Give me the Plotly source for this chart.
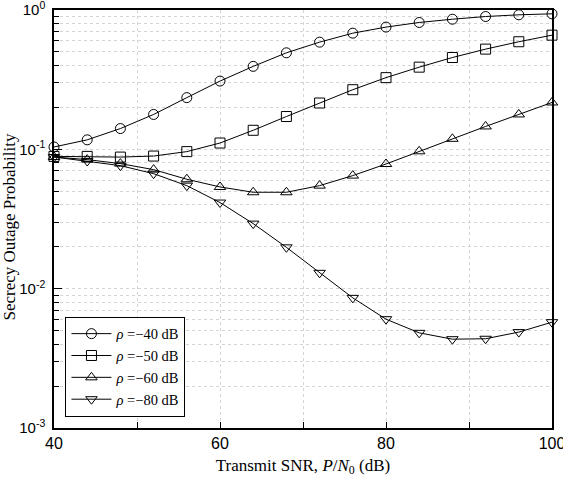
import plotly.graph_objects as go

snr = [40, 44, 48, 52, 56, 60, 64, 68, 72, 76, 80, 84, 88, 92, 96, 100]

p_40 = [0.104, 0.117, 0.141, 0.178, 0.235, 0.309, 0.394, 0.493, 0.588, 0.682,
        0.754, 0.814, 0.859, 0.898, 0.924, 0.939]
p_50 = [0.089, 0.089, 0.088, 0.0895, 0.0963, 0.111, 0.137, 0.172, 0.215, 0.268,
        0.327, 0.389, 0.456, 0.524, 0.592, 0.660]
p_60 = [0.0881, 0.0844, 0.079, 0.0715, 0.061, 0.0537, 0.0492, 0.0492, 0.0549, 0.0648,
        0.0785, 0.0968, 0.119, 0.146, 0.178, 0.217]
p_80 = [0.0881, 0.0824, 0.0764, 0.0669, 0.0549, 0.0415, 0.0293, 0.0198, 0.01299, 0.00859,
        0.00604, 0.00482, 0.00434, 0.00437, 0.00488, 0.00575]

labels = ["<i>ρ</i> =−40 dB", "<i>ρ</i> =−50 dB", "<i>ρ</i> =−60 dB", "<i>ρ</i> =−80 dB"]
symbols = ["circle-open", "square-open", "triangle-up-open", "triangle-down-open"]
series = [p_40, p_50, p_60, p_80]

y_tickvals = [0.001, 0.01, 0.1, 1]
y_ticktext = ["10<sup>-3</sup>", "10<sup>-2</sup>", "10<sup>-1</sup>", "10<sup>0</sup>"]
x_tickvals = [40, 60, 80, 100]
y_title = "Secrecy Outage Probability"
x_title = "Transmit SNR, <i>P</i>/<i>N</i><sub>0</sub> (dB)"

fig = go.Figure()
for lab, sym, ys in zip(labels, symbols, series):
    fig.add_trace(go.Scatter(
        x=snr, y=ys, mode="lines+markers", name=lab,
        line=dict(color="black", width=1),
        marker=dict(symbol=sym, size=10, color="black", line=dict(width=1, color="black")),
        cliponaxis=False,
    ))

minor_vals = [m * 10.0 ** k for k in (-3, -2, -1) for m in range(2, 10)]

grid_color = "#d4d4d4"
serif = "Liberation Serif, Times New Roman"
sans = "Liberation Sans, Arial"
fig.update_layout(
    width=563, height=481,
    margin=dict(l=54, r=11, t=10, b=53),
    paper_bgcolor="white", plot_bgcolor="white",
    font=dict(family=sans, color="black", size=16),
    legend=dict(
        x=0.023, y=0.027, xanchor="left", yanchor="bottom",
        bgcolor="white", bordercolor="black", borderwidth=1,
        font=dict(family=serif, size=14.5, color="black"),
        tracegroupgap=0, itemwidth=40,
    ),
    xaxis=dict(
        range=[40, 100], tickvals=x_tickvals, automargin=False,
        ticklabeloverflow="allow",
        showline=True, linecolor="black", linewidth=1.5, mirror=True,
        ticks="inside", ticklen=6, tickcolor="black",
        showgrid=True, gridcolor=grid_color, griddash="3px,3px", gridwidth=1,
        minor=dict(tickvals=[50, 70, 90], ticks="inside", ticklen=6, tickcolor="black",
                   showgrid=True, gridcolor=grid_color, griddash="3px,3px"),
        zeroline=False,
        tickfont=dict(family=sans, size=16),
        title=dict(text=x_title, font=dict(family=serif, size=17), standoff=8),
    ),
    yaxis=dict(
        type="log", range=[-3, 0.0001], tickmode="array",
        tickvals=y_tickvals, ticktext=y_ticktext, automargin=False,
        ticklabeloverflow="allow", ticklabelstandoff=4,
        showline=True, linecolor="black", linewidth=1.5, mirror=True,
        ticks="inside", ticklen=8, tickcolor="black",
        showgrid=True, gridcolor=grid_color, griddash="3px,3px", gridwidth=1,
        minor=dict(tickvals=minor_vals, ticks="inside", ticklen=5, tickcolor="black",
                   showgrid=True, gridcolor=grid_color, griddash="3px,3px"),
        zeroline=False,
        tickfont=dict(family=sans, size=15),
    ),
    annotations=[dict(
        text=y_title, xref="paper", yref="paper", x=-0.09, y=0.48,
        xanchor="center", yanchor="middle", textangle=-90, showarrow=False,
        font=dict(family=serif, size=17, color="black"),
    )],
)

fig.write_html("out.html")
